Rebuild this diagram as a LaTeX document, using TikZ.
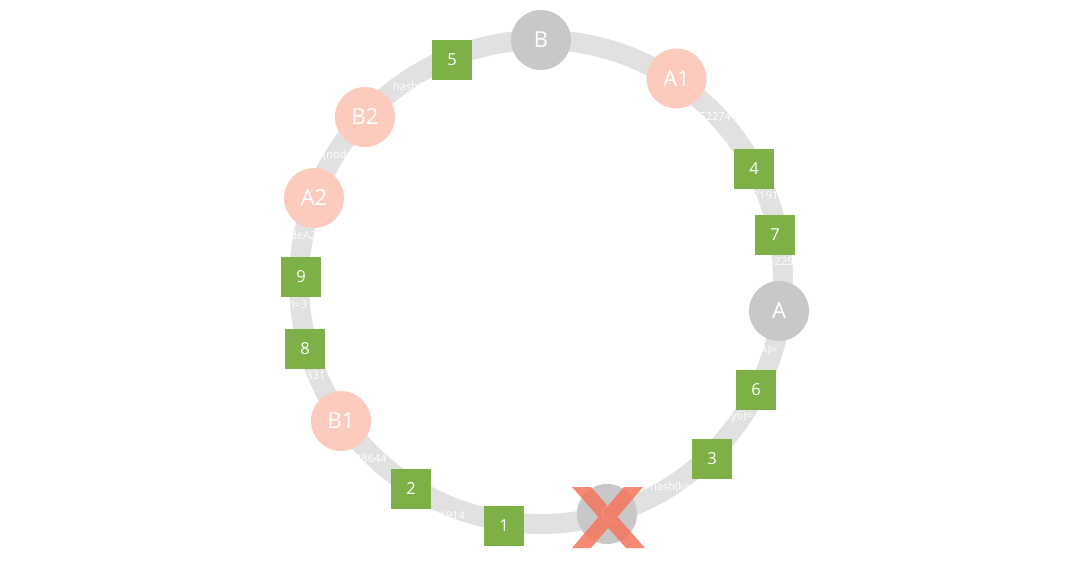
\documentclass[tikz,border=0pt]{standalone}
\usepackage{fontspec}
\setmainfont{Open Sans}
\definecolor{ringc}{HTML}{E1E1E1}
\definecolor{grayc}{HTML}{C8C8C8}
\definecolor{pinkc}{HTML}{FCCBBD}
\definecolor{greenc}{HTML}{7DB147}
\definecolor{crossc}{HTML}{F4755C}
\begin{document}
\begin{tikzpicture}[x=1pt,y=-1pt,
  server/.style={circle,fill=grayc,minimum size=60pt,inner sep=0pt,text=white,font=\fontsize{22}{22}\selectfont},
  vnode/.style={circle,fill=pinkc,minimum size=60pt,inner sep=0pt,text=white,font=\fontsize{22}{22}\selectfont},
  keybox/.style={rectangle,fill=greenc,minimum size=40pt,inner sep=0pt,text=white,font=\fontsize{16.5}{16.5}\selectfont},
  hashlbl/.style={text=white,inner sep=0pt,anchor=west,font=\fontsize{11}{11}\selectfont}]
\useasboundingbox (0,0) rectangle (1080,580);
\fill[white] (0,0) rectangle (1080,580);
\coordinate (ctr) at (541,282);
\draw[ringc,line width=20pt] (ctr) circle[radius=242];
% hash labels (visible fragments over the ring)
\node[hashlbl] (l5) at (393,87) {hash(k};
\node[hashlbl] (lB2) at (323,155) {(node};
\node[hashlbl] (lA2) at (290,235) {deA2};
\node[hashlbl] (l9) at (285,305) {9)=3};
\node[hashlbl] (l8) at (300,376) {=331};
\node[hashlbl] (lB1) at (355,459) {28644};
\node[hashlbl] (l2) at (427,516) {301914};
\node[hashlbl] (lA1) at (693,117) {352274};
\node[hashlbl] (l4) at (753,196) {2191};
\node[hashlbl] (l7) at (768,262) {=225};
\node[hashlbl] (lA) at (754,350) {eA)=};
\node[hashlbl] (l6) at (725,417) {ey6)=};
\node[hashlbl] (l3) at (650,487) {hash(ke};
% servers
\node[server] (B) at (541,40) {B};
\node[server] (A) at (779,311) {A};
\node[server] (C) at (607,514) {C};
% virtual nodes
\node[vnode] (A1) at (676.5,78.5) {A1};
\node[vnode] (B2) at (365,117) {B2};
\node[vnode] (A2) at (314,198) {A2};
\node[vnode] (B1) at (341,421) {B1};
% keys
\node[keybox] (k5) at (452,60) {5};
\node[keybox] (k4) at (754,169) {4};
\node[keybox] (k7) at (775,235) {7};
\node[keybox] (k6) at (756,390) {6};
\node[keybox] (k3) at (712,459) {3};
\node[keybox] (k9) at (301,277) {9};
\node[keybox] (k8) at (305,349) {8};
\node[keybox] (k2) at (411,489) {2};
\node[keybox] (k1) at (504,526) {1};
% cross over C
\fill[crossc,fill opacity=0.85]
  (572,487) -- (591,487) -- (645,548) -- (626,548) -- cycle
  (624,487) -- (643,487) -- (591,548) -- (572,548) -- cycle;
\end{tikzpicture}
\end{document}
